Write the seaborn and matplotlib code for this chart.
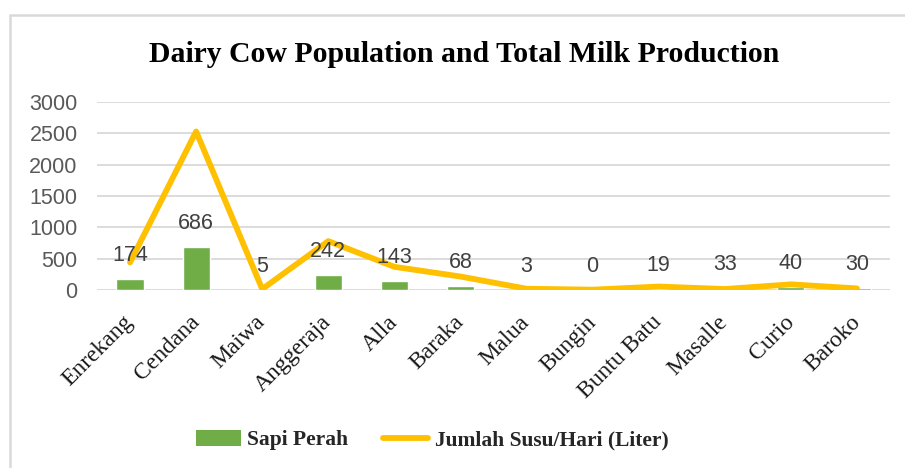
import numpy as np
import matplotlib
matplotlib.use('Agg')
import matplotlib.pyplot as plt
from matplotlib.patches import Patch, Rectangle
from matplotlib.lines import Line2D
import seaborn as sns

# Chart data
districts = ['Enrekang', 'Cendana', 'Maiwa', 'Anggeraja', 'Alla', 'Baraka',
             'Malua', 'Bungin', 'Buntu Batu', 'Masalle', 'Curio', 'Baroko']
dairy_cows = [174, 686, 5, 242, 143, 68, 3, 0, 19, 33, 40, 30]
milk_per_day = [440, 2530, 15, 780, 370, 215, 20, 5, 55, 15, 90, 25]
y_ticks = [0, 500, 1000, 1500, 2000, 2500, 3000]

GREEN = '#70AD47'
GOLD = '#FFC000'
GRID = '#D9D9D9'
SERIF = 'Liberation Serif'
SANS = 'Liberation Sans'

sns.set_theme(style='white')
plt.rcParams['font.family'] = ['Liberation Sans', 'DejaVu Sans']

fig = plt.figure(figsize=(9.05, 4.68), dpi=100)
ax = fig.add_axes([97 / 905, 1 - 290 / 468, (890 - 97) / 905, (290 - 102) / 468])

# bars for the cow population
sns.barplot(x=districts, y=dairy_cows, color=GREEN, width=0.41,
            saturation=1, ax=ax, zorder=2)

# line for daily milk
sns.lineplot(x=np.arange(len(districts)), y=milk_per_day, color=GOLD,
             linewidth=4.2, ax=ax, zorder=3, solid_joinstyle='round',
             solid_capstyle='round')

# value labels above bars
for i, v in enumerate(dairy_cows):
    ax.annotate(str(v), (i, v), xytext=(0, 17), textcoords='offset points',
                ha='center', va='center', fontsize=15.5, color='#404040',
                family=SANS, zorder=4)

ax.set_ylim(0, 3000)
ax.set_xlim(-0.5, len(districts) - 0.5)
ax.set_yticks(y_ticks)
ax.set_yticklabels([str(t) for t in y_ticks], fontsize=15.5, color='#595959',
                   family=SANS)
ax.yaxis.grid(True, color=GRID, linewidth=1.3, zorder=0)
ax.set_axisbelow(True)
for s in ax.spines.values():
    s.set_visible(False)
ax.tick_params(axis='both', length=0)
ax.tick_params(axis='y', pad=14)
ax.tick_params(axis='x', pad=21)
ax.set_xlabel('')
ax.set_ylabel('')
for lab in ax.get_xticklabels():
    lab.set_rotation(45)
    lab.set_ha('right')
    lab.set_va('center')
    lab.set_rotation_mode('anchor')
    lab.set_family(SERIF)
    lab.set_fontsize(17)
    lab.set_color('#1a1a1a')

fig.text(464 / 905, 1 - 55 / 468, 'Dairy Cow Population and Total Milk Production',
         ha='center', va='center', fontsize=21.4, fontweight='bold', family=SERIF,
         color='black')

handles = [Patch(facecolor=GREEN, edgecolor='none'),
           Line2D([0], [0], color=GOLD, linewidth=4.2, solid_capstyle='round')]
fig.legend(handles, ['Sapi Perah', 'Jumlah Susu/Hari (Liter)'], loc='center',
           bbox_to_anchor=(432 / 905, 1 - 440 / 468), ncol=2, frameon=False,
           prop={'family': SERIF, 'weight': 'bold', 'size': 15.5},
           handlelength=2.1, handleheight=0.8, handletextpad=0.3,
           columnspacing=1.6)

# chart area border
fig.patches.append(Rectangle((10 / 905, -0.02), 1.0, 1 - 15 / 468 + 0.02,
                             transform=fig.transFigure, fill=False,
                             edgecolor=GRID, linewidth=1.8))

fig.savefig('out.png', dpi=100)
